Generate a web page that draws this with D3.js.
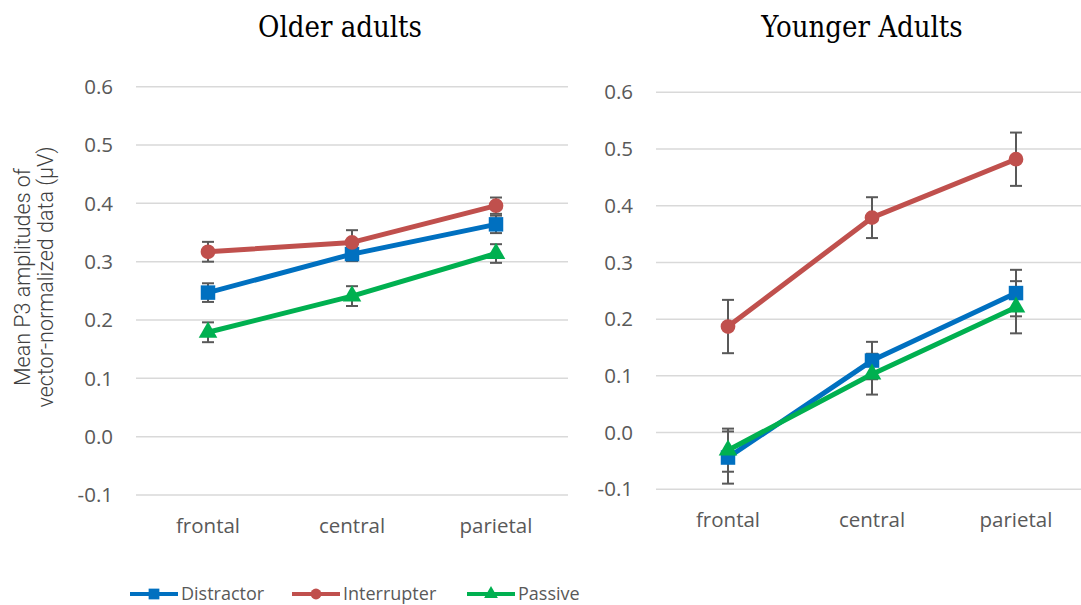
<!DOCTYPE html>
<html>
<head>
<meta charset="utf-8">
<script src="https://cdn.jsdelivr.net/npm/d3@7"></script>
<style>
  html, body { margin: 0; padding: 0; background: #fff; }
  svg { display: block; }
</style>
</head>
<body>
<svg id="chart" width="1081" height="605"></svg>
<script>
// Scalp regions along the x axis
const regions = ["frontal", "central", "parietal"];
const yTicks = [-0.1, 0.0, 0.1, 0.2, 0.3, 0.4, 0.5, 0.6];
const seriesNames = ["Distractor", "Interrupter", "Passive"];

// Older adults: means and error-bar half-widths
const olderDistractor = [0.247, 0.313, 0.364];
const olderDistractorErr = [0.016, 0.012, 0.015];
const olderInterrupter = [0.317, 0.333, 0.396];
const olderInterrupterErr = [0.017, 0.021, 0.014];
const olderPassive = [0.179, 0.241, 0.314];
const olderPassiveErr = [0.017, 0.017, 0.016];

// Younger adults: means and error-bar half-widths
const youngerDistractor = [-0.044, 0.127, 0.246];
const youngerDistractorErr = [0.046, 0.033, 0.041];
const youngerInterrupter = [0.187, 0.379, 0.482];
const youngerInterrupterErr = [0.047, 0.036, 0.047];
const youngerPassive = [-0.031, 0.103, 0.221];
const youngerPassiveErr = [0.038, 0.036, 0.046];

const colors = { Distractor: "#0070C0", Interrupter: "#C0504D", Passive: "#00B050" };
const shapes = { Distractor: d3.symbolSquare, Interrupter: d3.symbolCircle, Passive: d3.symbolTriangle };
const symSize = { Distractor: 210, Interrupter: 170, Passive: 150 };

const tickFont = "'Open Sans', sans-serif";
const fmt = v => d3.format(".1f")(v).replace("\u2212", "-");

const svg = d3.select("#chart");

const panels = [
  { title: "Older adults", titleX: 340, left: 136, right: 568, top: 86.7, bottom: 495, labelX: 113, xLabelY: 533,
    series: [
      { name: "Distractor", values: olderDistractor, err: olderDistractorErr },
      { name: "Interrupter", values: olderInterrupter, err: olderInterrupterErr },
      { name: "Passive", values: olderPassive, err: olderPassiveErr }
    ] },
  { title: "Younger Adults", titleX: 862, left: 656, right: 1088, top: 92.3, bottom: 489.3, labelX: 633, xLabelY: 527,
    series: [
      { name: "Distractor", values: youngerDistractor, err: youngerDistractorErr },
      { name: "Interrupter", values: youngerInterrupter, err: youngerInterrupterErr },
      { name: "Passive", values: youngerPassive, err: youngerPassiveErr }
    ] }
];

panels.forEach(p => {
  const x = d3.scaleBand().domain(regions).range([p.left, p.right]);
  const y = d3.scaleLinear().domain([-0.1, 0.6]).range([p.bottom, p.top]);
  const g = svg.append("g");

  // gridlines
  g.selectAll("line.grid").data(yTicks).join("line")
    .attr("x1", p.left).attr("x2", p.right)
    .attr("y1", d => y(d)).attr("y2", d => y(d))
    .attr("stroke", "#d9d9d9").attr("stroke-width", 1.5);

  // y tick labels
  g.selectAll("text.ytick").data(yTicks).join("text")
    .attr("x", p.labelX).attr("y", d => y(d))
    .attr("dy", "0.35em").attr("text-anchor", "end")
    .attr("font-family", tickFont).attr("font-size", 20.5)
    .attr("fill", "#595959")
    .text(fmt);

  // x labels
  g.selectAll("text.xtick").data(regions).join("text")
    .attr("x", d => x(d) + x.bandwidth() / 2).attr("y", p.xLabelY)
    .attr("text-anchor", "middle")
    .attr("font-family", tickFont).attr("font-size", 20.5)
    .attr("fill", "#595959")
    .text(d => d);

  // title
  g.append("text")
    .attr("x", p.titleX).attr("y", 37)
    .attr("text-anchor", "middle")
    .attr("font-family", "'DejaVu Serif Condensed', 'Liberation Serif', serif")
    .attr("font-stretch", "condensed")
    .attr("font-size", 29)
    .attr("fill", "#000")
    .text(p.title);

  const cx = d => x(d) + x.bandwidth() / 2;
  const line = d3.line().x(d => cx(d.r)).y(d => y(d.v));

  p.series.forEach(s => {
    const pts = regions.map((r, i) => ({ r, v: s.values[i], e: s.err[i] }));
    g.append("path").datum(pts)
      .attr("d", line).attr("fill", "none")
      .attr("stroke", colors[s.name]).attr("stroke-width", 5)
      .attr("stroke-linejoin", "round");
  });

  // error bars
  p.series.forEach(s => {
    const pts = regions.map((r, i) => ({ r, v: s.values[i], e: s.err[i] }));
    const eb = g.append("g").attr("stroke", "#595959").attr("stroke-width", 2);
    pts.forEach(d => {
      eb.append("line").attr("x1", cx(d.r)).attr("x2", cx(d.r))
        .attr("y1", y(d.v - d.e)).attr("y2", y(d.v + d.e));
      [d.v - d.e, d.v + d.e].forEach(v => {
        eb.append("line").attr("x1", cx(d.r) - 6).attr("x2", cx(d.r) + 6)
          .attr("y1", y(v)).attr("y2", y(v));
      });
    });
  });

  // markers
  p.series.forEach(s => {
    const pts = regions.map((r, i) => ({ r, v: s.values[i] }));
    g.selectAll(null).data(pts).join("path")
      .attr("transform", d => `translate(${cx(d.r)},${y(d.v)})`)
      .attr("d", d3.symbol().type(shapes[s.name]).size(symSize[s.name]))
      .attr("fill", colors[s.name]);
  });
});

// y-axis title (two lines, rotated)
const yTitle = svg.append("text")
  .attr("transform", "translate(34,277) rotate(-90)")
  .attr("text-anchor", "middle")
  .attr("font-family", "Roboto, 'Liberation Sans', sans-serif").attr("font-size", 21.5)
  .attr("font-weight", 300)
  .attr("fill", "#404040");
yTitle.append("tspan").attr("x", 0).attr("dy", "-0.2em").text("Mean P3 amplitudes of");
yTitle.append("tspan").attr("x", 0).attr("dy", "1.1em").text("vector-normalized data (µV)");

// legend
const legendX = [130, 292, 467];
const legend = svg.append("g");
seriesNames.forEach((name, i) => {
  const lg = legend.append("g").attr("transform", `translate(${legendX[i]},594)`);
  lg.append("line").attr("x1", 0).attr("x2", 48).attr("y1", 0).attr("y2", 0)
    .attr("stroke", colors[name]).attr("stroke-width", 4);
  lg.append("path").attr("transform", "translate(24,0)")
    .attr("d", d3.symbol().type(shapes[name]).size(symSize[name] * 0.55))
    .attr("fill", colors[name]);
  lg.append("text").attr("x", 51).attr("y", 0).attr("dy", "0.35em")
    .attr("font-family", tickFont).attr("font-size", 18)
    .attr("fill", "#595959").text(name);
});
</script>
</body>
</html>
